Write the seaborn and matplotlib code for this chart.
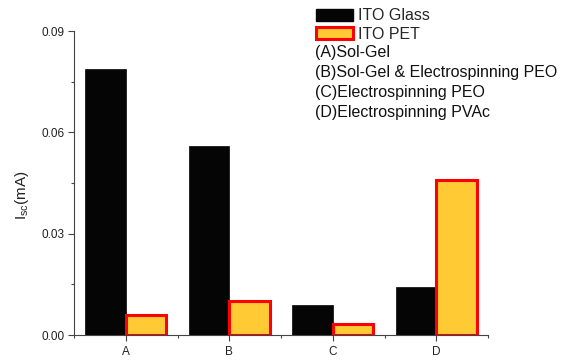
import matplotlib
matplotlib.use("Agg")
import matplotlib.pyplot as plt
from matplotlib.patches import Patch
from matplotlib.ticker import MultipleLocator, AutoMinorLocator, FormatStrFormatter
import pandas as pd
import seaborn as sns

# Short-circuit current per fabrication method and substrate
samples = ["A", "B", "C", "D"]
ito_glass = [0.0787, 0.0560, 0.0089, 0.0143]
ito_pet = [0.0060, 0.0100, 0.0033, 0.0458]
substrates = ["ITO Glass", "ITO PET"]
methods = ["(A)Sol-Gel", "(B)Sol-Gel & Electrospinning PEO",
           "(C)Electrospinning PEO", "(D)Electrospinning PVAc"]

df = pd.DataFrame({
    "sample": samples * 2,
    "Isc": ito_glass + ito_pet,
    "substrate": [substrates[0]] * len(samples) + [substrates[1]] * len(samples),
})

sns.set_style("ticks")
plt.rcParams["font.family"] = ["Liberation Sans", "DejaVu Sans"]
plt.rcParams["mathtext.fontset"] = "custom"
plt.rcParams["mathtext.rm"] = "Liberation Sans"
plt.rcParams["mathtext.it"] = "Liberation Sans"

glass_color = "#050505"
pet_color = "#FFCA33"
pet_edge = "#FF0000"

fig = plt.figure(figsize=(5.77, 3.60), dpi=100)
ax = fig.add_axes([74 / 577, 1 - 335 / 360, (488 - 74) / 577, (335 - 31) / 360])

sns.barplot(data=df, x="sample", y="Isc", hue="substrate", order=samples,
            hue_order=substrates, palette=[glass_color, pet_color],
            width=0.78, saturation=1, legend=False, ax=ax)

for bar in ax.containers[0]:
    bar.set_edgecolor(glass_color)
    bar.set_linewidth(0.5)
for bar in ax.containers[1]:
    bar.set_edgecolor(pet_edge)
    bar.set_linewidth(2.2)

ax.set_xlim(-0.5, 3.5)
ax.set_ylim(0, 0.09)
ax.yaxis.set_major_locator(MultipleLocator(0.03))
ax.yaxis.set_minor_locator(AutoMinorLocator(2))
ax.xaxis.set_minor_locator(MultipleLocator(0.5, offset=0.5))
ax.yaxis.set_major_formatter(FormatStrFormatter("%.2f"))

sns.despine(ax=ax)
for side in ("left", "bottom"):
    ax.spines[side].set_color("#444444")
    ax.spines[side].set_linewidth(0.8)
ax.tick_params(axis="both", which="major", length=4, width=0.8,
               color="#444444", labelsize=8.5, labelcolor="#222222")
ax.tick_params(axis="x", which="major", pad=4)
ax.tick_params(axis="y", which="major", pad=3)
ax.tick_params(axis="both", which="minor", length=2, width=0.8, color="#444444")

ax.set_xlabel("")
ax.set_ylabel(r"I$_{\mathregular{sc}}$(mA)", fontsize=11, color="#222222")
ax.yaxis.set_label_coords(-0.105, 0.46)

handles = [Patch(facecolor=glass_color, edgecolor=glass_color),
           Patch(facecolor=pet_color, edgecolor=pet_edge, linewidth=2.2)]
fig.legend(handles, substrates, loc="upper left",
           bbox_to_anchor=(305 / 577, 1 + 3 / 360), frameon=False,
           fontsize=11.5, handlelength=2.3, handleheight=0.8,
           handletextpad=0.3, labelspacing=0.22, borderpad=0.2)

for i, label in enumerate(methods):
    fig.text(315 / 577, 1 - (53 + 20 * i) / 360, label, fontsize=11.5,
             ha="left", va="center", color="#111111")

fig.savefig("out.png", dpi=100)
